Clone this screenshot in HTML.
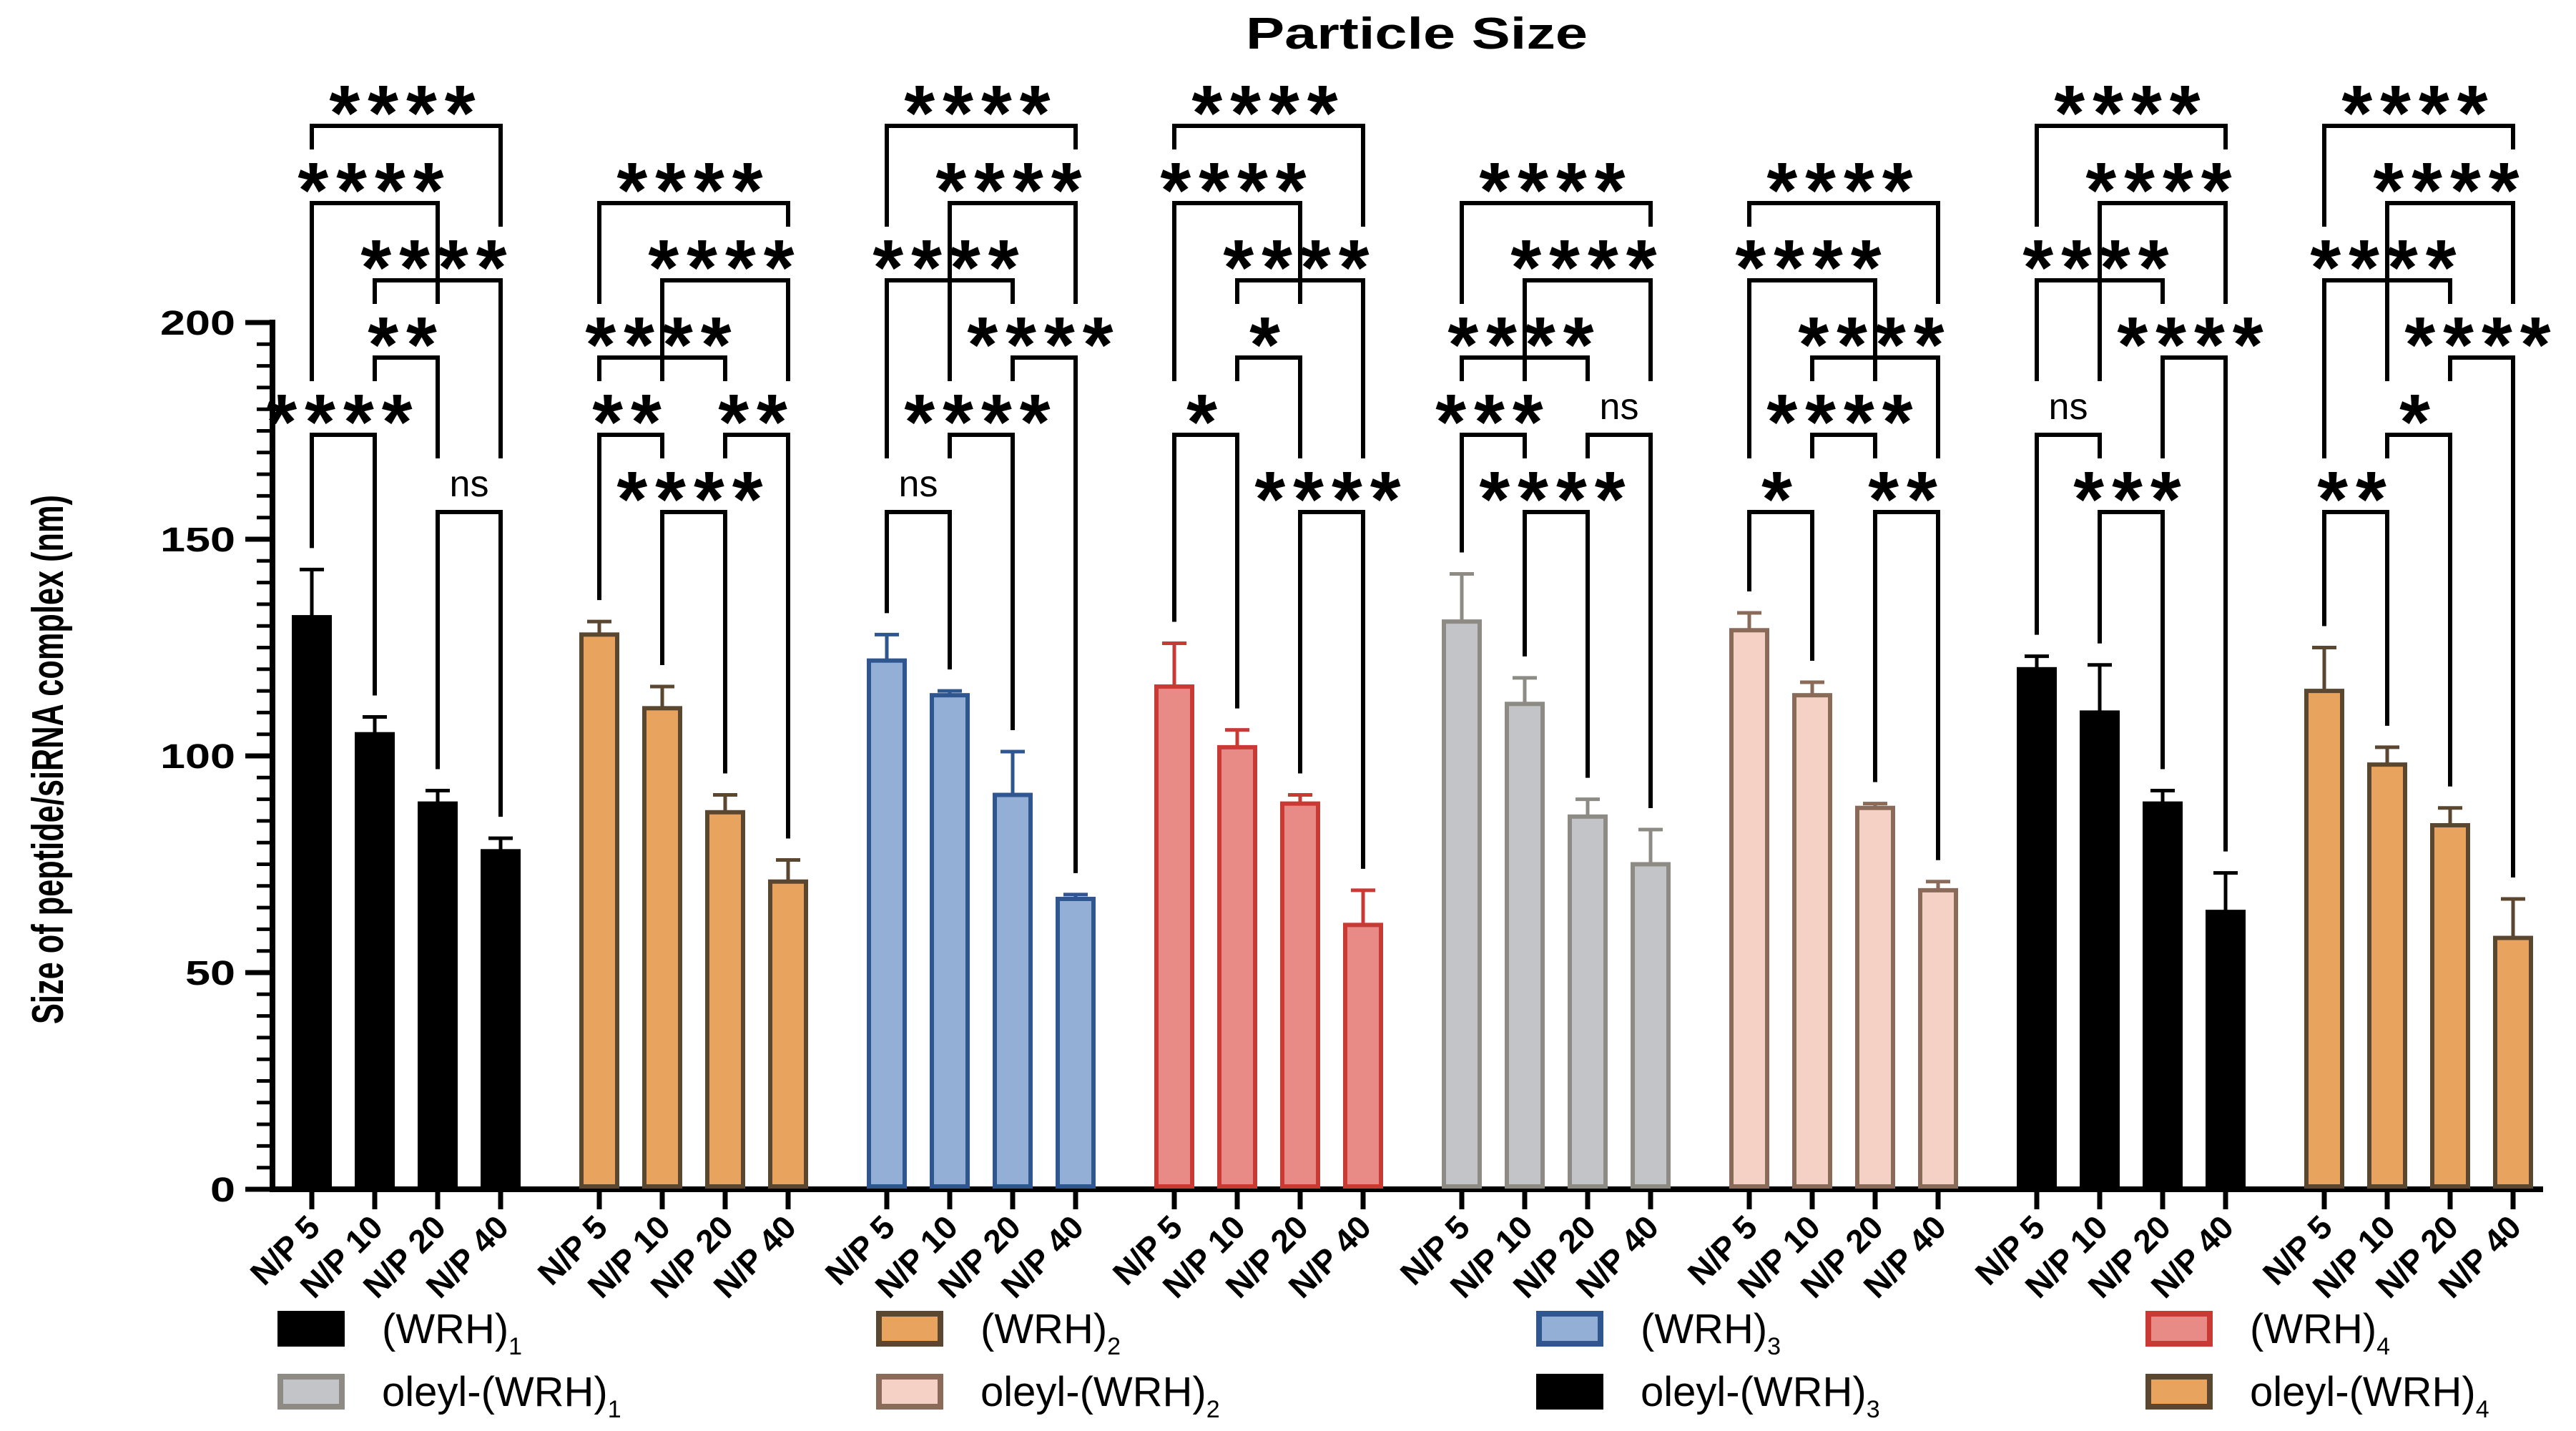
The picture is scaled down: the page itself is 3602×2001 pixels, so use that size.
<!DOCTYPE html>
<html><head><meta charset="utf-8"><style>html,body{margin:0;padding:0;background:#fff}svg{display:block}</style></head>
<body>
<svg id="chart" xmlns="http://www.w3.org/2000/svg" width="3602" height="2001" viewBox="0 0 3602 2001" font-family="Liberation Sans, Arial, sans-serif">
<rect width="3602" height="2001" fill="#fff"/>
<text x="1981" y="68" text-anchor="middle" font-weight="bold" font-size="62" textLength="478" lengthAdjust="spacingAndGlyphs">Particle Size</text>
<text transform="translate(88,1062) rotate(-90)" text-anchor="middle" font-weight="bold" font-size="62" textLength="740" lengthAdjust="spacingAndGlyphs">Size of peptide/siRNA complex (nm)</text>
<g id="plot"></g>
</svg>
<script>
const seriesNames = ["(WRH)1","(WRH)2","(WRH)3","(WRH)4","oleyl-(WRH)1","oleyl-(WRH)2","oleyl-(WRH)3","oleyl-(WRH)4"];
const categories = ["N/P 5","N/P 10","N/P 20","N/P 40"];
const means = [[132,105,89,78],[128,111,87,71],[122,114,91,67],[116,102,89,61],[131,112,86,75],[129,114,88,69],[120,110,89,64],[115,98,84,58]];
const errTops = [[143,109,92,81],[131,116,91,76],[128,115,101,68],[126,106,91,69],[142,118,90,83],[133,117,89,71],[123,121,92,73],[125,102,88,67]];
const yTicks = [0,50,100,150,200];
const fills = ["#000","#e8a35e","#94afd6","#e88a85","#c3c4c7","#f5d0c4","#000","#e8a35e"];
const strokes = ["#000","#5b4630","#2f568f","#c93a35","#8d8b84","#8a6a58","#000","#5b4630"];
// brackets: [level, barA, barB, label]
const sig = [
 [[0,0,3,"****"],[1,0,2,"****"],[2,1,3,"****"],[3,1,2,"**"],[4,0,1,"****"],[5,2,3,"ns"]],
 [[1,0,3,"****"],[2,1,3,"****"],[3,0,2,"****"],[4,0,1,"**"],[4,2,3,"**"],[5,1,2,"****"]],
 [[0,0,3,"****"],[1,1,3,"****"],[2,0,2,"****"],[3,2,3,"****"],[4,1,2,"****"],[5,0,1,"ns"]],
 [[0,0,3,"****"],[1,0,2,"****"],[2,1,3,"****"],[3,1,2,"*"],[4,0,1,"*"],[5,2,3,"****"]],
 [[1,0,3,"****"],[2,1,3,"****"],[3,0,2,"****"],[4,0,1,"***"],[4,2,3,"ns"],[5,1,2,"****"]],
 [[1,0,3,"****"],[2,0,2,"****"],[3,1,3,"****"],[4,1,2,"****"],[5,0,1,"*"],[5,2,3,"**"]],
 [[0,0,3,"****"],[1,1,3,"****"],[2,0,2,"****"],[3,2,3,"****"],[4,0,1,"ns"],[5,1,2,"***"]],
 [[0,0,3,"****"],[1,1,3,"****"],[2,0,2,"****"],[3,2,3,"****"],[4,1,2,"*"],[5,0,1,"**"]]
];
const NS="http://www.w3.org/2000/svg";
const g=document.getElementById('plot');
const Y0=1663,Y200=451,AX=381,AXEND=3556;
function y(v){return Y0-(Y0-Y200)*v/200;}
function x(gi,bi){return 436+gi*402+bi*88;}
function lvl(k){return 176+108*k;}
function mk(t,a){const e=document.createElementNS(NS,t);for(const k in a)e.setAttribute(k,a[k]);g.appendChild(e);return e;}
let e;
e=mk('line',{x1:AX,y1:y(200)-4,x2:AX,y2:Y0+4,stroke:'#000','stroke-width':8});

e=mk('line',{x1:AX-4,y1:Y0,x2:AXEND,y2:Y0,stroke:'#000','stroke-width':8});

for(let v=0;v<=200;v+=5){
  const major=v%50===0;
  e=mk('line',{x1:AX-(major?38:22),y1:y(v),x2:AX,y2:y(v),stroke:'#000','stroke-width':major?7:5});
  
}
yTicks.forEach(v=>{
  const s=String(v);
  e=mk('text',{x:AX-52,y:y(v)+17,'text-anchor':'end','font-weight':'bold','font-size':48,textLength:s.length*35,lengthAdjust:'spacingAndGlyphs'});
  e.textContent=s;
  
});
means.forEach((ser,gi)=>{
  ser.forEach((v,bi)=>{
    const cx=x(gi,bi);
    e=mk('line',{x1:cx,y1:y(errTops[gi][bi]),x2:cx,y2:y(v),stroke:strokes[gi],'stroke-width':5});
    
    e=mk('line',{x1:cx-17,y1:y(errTops[gi][bi]),x2:cx+17,y2:y(errTops[gi][bi]),stroke:strokes[gi],'stroke-width':5});
    
    e=mk('rect',{x:cx-25,y:y(v),width:50,height:Y0-y(v)-4,fill:fills[gi],stroke:strokes[gi],'stroke-width':6});
    
    e=mk('line',{x1:cx,y1:Y0,x2:cx,y2:Y0+28,stroke:'#000','stroke-width':7});
    
    e=mk('text',{transform:`translate(${cx+14},${Y0+56}) rotate(-45)`,'text-anchor':'end','font-weight':'bold','font-size':46});
    e.textContent=categories[bi];
    
  });
  const br=sig[gi];
  br.forEach(([k,a,b,lab])=>{
    const ly=lvl(k);
    function legEnd(bar){
      let next=null;
      br.forEach(([k2,a2,b2])=>{ if(k2>k&&(a2===bar||b2===bar)&&(next===null||k2<next))next=k2; });
      return next!==null?lvl(next)-75:y(errTops[gi][bar])-30;
    }
    const xa=x(gi,a),xb=x(gi,b);
    e=mk('polyline',{points:`${xa},${legEnd(a)} ${xa},${ly} ${xb},${ly} ${xb},${legEnd(b)}`,fill:'none',stroke:'#000','stroke-width':6});
    
    const mx=(xa+xb)/2;
    if(lab==='ns'){
      e=mk('text',{x:mx,y:ly-22,'text-anchor':'middle','font-size':52});
    } else {
      e=mk('text',{x:mx,y:ly+20,'text-anchor':'middle','font-weight':'bold','font-size':110,'letter-spacing':11});
    }
    e.textContent=lab;
    
  });
});
const legX=[388,1225,2148,3000], legY=[1858,1946];
seriesNames.forEach((n,i)=>{
  const lx=legX[i%4], ly=legY[Math.floor(i/4)];
  e=mk('rect',{x:lx+4,y:ly-21,width:86,height:42,fill:fills[i],stroke:strokes[i],'stroke-width':8});
  
  const t=mk('text',{x:lx+146,y:ly+20,'font-size':58});
  
  const base=n.slice(0,-1), sub=n.slice(-1);
  const s1=document.createElementNS(NS,'tspan');s1.textContent=base;t.appendChild(s1);
  const s2=document.createElementNS(NS,'tspan');s2.setAttribute('font-size','34');s2.setAttribute('dy','16');s2.textContent=sub;t.appendChild(s2);
});
</script>
</body></html>
